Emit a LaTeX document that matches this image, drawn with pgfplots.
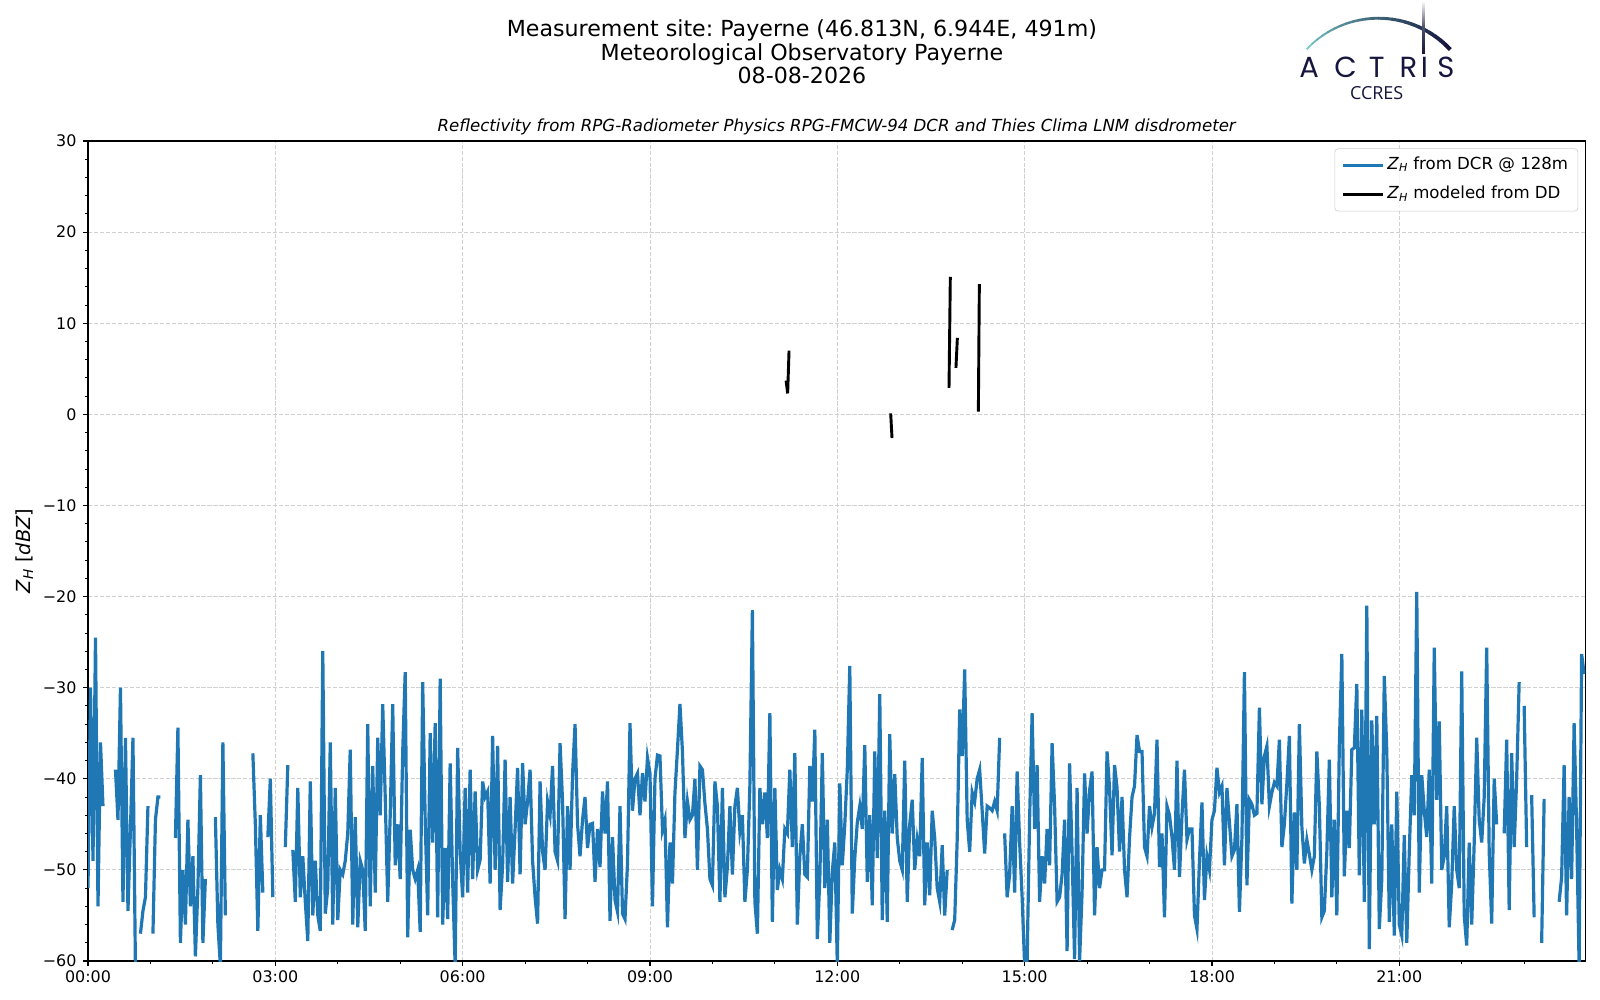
\documentclass[border=0pt]{standalone}
\usepackage{fontspec}
\setmainfont{DejaVu Sans}[ItalicFont={DejaVu Sans Oblique}]
\newfontfamily\logofont{Poppins}
\newfontfamily\ccresfont{Open Sans}
\usepackage{pgfplots}
\usepackage{pgfplotstable}
\pgfplotsset{compat=1.18}
\frenchspacing
\definecolor{mplblue}{HTML}{1F77B4}
\definecolor{navy}{HTML}{15153D}
\definecolor{tealA}{HTML}{74CBC6}
\definecolor{gridgray}{HTML}{D0D0D0}

\pgfplotstableread[row sep=\\, header=false]{
-52\\-30\\-49\\-24.5\\-54\\-36\\-43\\nan\\nan\\nan\\nan\\-39\\-44.5\\-30\\-53.5\\-35.5\\-54.5\\-45.5\\-35.5\\-61\\nan\\-57\\-54.5\\-53\\-43\\
nan\\-57\\-44.5\\-42\\-42\\nan\\nan\\nan\\nan\\nan\\-46.5\\-34.4\\-58\\-50\\-56\\-44.5\\-54\\-48.5\\-59.5\\-52\\-39.6\\-58\\-51\\nan\\nan\\
nan\\-44.2\\-56\\-60.5\\-36\\-55\\nan\\nan\\nan\\nan\\nan\\nan\\nan\\nan\\nan\\nan\\-37.2\\-45\\-56.7\\-44\\-52.5\\nan\\-46.4\\-40\\-53\\
nan\\nan\\nan\\nan\\-47.5\\-38.5\\nan\\-47.8\\-53.5\\-41\\-53\\-48.5\\-53.5\\-57.8\\-40.3\\-55\\-49\\-55\\-56.7\\-26\\-54.8\\-52\\-36\\-56\\-41\\
-55.5\\-50\\-50.5\\-49\\-46\\-36.8\\-56\\-44.2\\-56.3\\-49\\-50\\-56.7\\-34\\-54\\-38.6\\-52.5\\-35.5\\-44\\-31.8\\-42\\-53.5\\-44\\-31.8\\-49.5\\-45\\
-51\\-37\\-28.3\\-57.4\\-45.6\\-50\\-51\\-50\\-56.8\\-29.4\\-44.5\\-55\\-35\\-47\\-33.9\\-55.2\\-29\\-56\\-47.6\\-55.4\\-38.3\\-51.3\\-60.5\\-36.6\\-48\\
-53\\-41\\-52.5\\-39\\-51\\-41.4\\-50\\-48.9\\-40.3\\-42\\-41.4\\-51.5\\-35.3\\-50\\-36.4\\-54.4\\-49.5\\-37.9\\-51.3\\-42\\-51.5\\-45.5\\-38.8\\-50.5\\-38.3\\
-45\\-42.5\\-39\\-49\\-53\\-55.9\\-40.3\\-48\\-50\\-42.5\\-44\\-38.6\\-48\\-49\\-36.1\\-42.5\\-55.4\\-43\\-50\\-39.5\\-34\\-45\\-48.5\\-44.5\\-42\\
-47.6\\-45\\-44.9\\-51.3\\-45.5\\-49.7\\-41.4\\-46\\-40.3\\-55.6\\-46.4\\-53.3\\-54.6\\-43\\-54.8\\-55.4\\-49.3\\-33.9\\-43.5\\-40\\-39.4\\-44\\-39.4\\-42.5\\-37.7\\
-39.4\\-54\\-40\\-37.4\\-37.5\\-45.6\\-44.5\\-56.3\\-47\\-51.5\\-41.5\\-36.8\\-31.8\\-37\\-46.5\\-42.5\\-44.5\\-44\\-40\\-50\\-38.6\\-39\\-42.7\\-45.5\\-51\\
-51.7\\-40.3\\-43\\-53.5\\-41\\-53\\-49.7\\-43\\-50.5\\-43\\-41\\-45.8\\-44\\-53.5\\-50\\-40.7\\-21.5\\-53.5\\-57\\-41\\-45\\-41.5\\-46.5\\-32.8\\-55.7\\
-41\\-52.2\\-50\\-51\\-45.5\\-46\\-39\\-47.5\\-37.2\\-56\\-48.5\\-45\\-50.5\\-50.8\\-38.6\\-42.5\\-34.6\\-57.6\\-51\\-37.2\\-52\\-44.5\\-58\\-50.2\\-47\\
-60.5\\-40.5\\-49.5\\-45\\-39\\-27.6\\-54.8\\-48.7\\-44.8\\-43\\-45.5\\-36.3\\-51.3\\-44\\-53.9\\-37\\-48.7\\-30.7\\-55.5\\-43.5\\-55.7\\-35.1\\-46\\-39.5\\-46.5\\
-49\\-50\\-38\\-53.5\\-45\\-42.3\\-50\\-46.7\\-48.5\\-37.7\\-53.9\\-47\\-52.8\\-43.5\\-46.5\\-52\\-53.5\\-47.3\\-55\\-50\\nan\\-56.6\\-55.5\\-46.7\\-32.4\\
-37.5\\-28\\-44.5\\-48\\-41.5\\-42.5\\-40\\-39\\-43.5\\-48.2\\-43\\-43.2\\-43.5\\-42.5\\-43.5\\-35.5\\nan\\-46\\-53\\-50.5\\-43\\-52.5\\-39.2\\-47\\-53\\
-60.5\\-60\\-44.3\\-32.8\\-45.5\\-38.5\\-53.5\\-48.5\\-51.5\\-45.5\\-49.5\\-36.1\\-43\\-53.5\\-53\\-50.5\\-44.5\\-58.9\\-38.3\\-48.2\\-59.8\\-41\\-60\\-52.5\\-39.4\\
-46\\-41.3\\-39.2\\-55\\-47.5\\-52\\-50\\-50\\-37\\-41\\-48.4\\-38.5\\-41\\-48\\-42\\-50\\-53\\-46.5\\-42\\-40.8\\-35.2\\-37\\-37\\-47.5\\-48.5\\
-43\\-45.3\\-43.8\\-35.7\\-49.7\\-46\\-55.2\\-43\\-44\\-46.4\\-50\\-38\\-50.8\\-44\\-39\\-46.7\\-45.5\\-45.5\\-55\\-56.5\\-49\\-42.6\\-53.3\\-48.5\\-50\\
-44.5\\-43.5\\-38.8\\-41.5\\-40.8\\-49.5\\-41\\-44.8\\-48.5\\-47.8\\-42.8\\-54.6\\-46.5\\-28.3\\-51.7\\-42.3\\-42.8\\-44\\-43.8\\-32.2\\-42.8\\-37.5\\-36.4\\-43\\-41.5\\
-40.4\\-40.8\\-35.7\\-47.5\\-45\\-40.5\\-35.3\\-53.7\\-43.7\\-50\\-34\\-45.3\\-49.3\\-46.7\\-48.3\\-50\\-48.5\\-37\\-43\\-55.2\\-54.5\\-48\\-37.9\\-53\\-44.5\\
-55\\-36.3\\-26.3\\-50.7\\-43.5\\-47.6\\-36.8\\-36.6\\-29.6\\-50.6\\-32.4\\-53.5\\-21\\-58.7\\-33.6\\-45\\-33.1\\-56.5\\-51\\-28.7\\-37\\-55.7\\-45\\-57.2\\-41.4\\
-56\\-57.2\\-46.2\\-58\\-48\\-39.6\\-44\\-19.5\\-52.5\\-39.6\\-43.5\\-46.4\\-39\\-51.5\\-25.6\\-42.3\\-33.7\\-50\\-48.5\\-43\\-56.3\\-51.5\\-43\\-50\\-52\\
-28.2\\-55\\-58.3\\-47\\-56\\-47\\-35.5\\-44.5\\-47\\-42\\-25.6\\-48\\-55.9\\-40\\-45\\nan\\nan\\-46\\-35.7\\-54.4\\-37.2\\-47.5\\-40\\-29.4\\nan\\
-32\\-47.5\\nan\\-41.8\\-55.2\\nan\\nan\\-58\\-42.2\\nan\\nan\\nan\\nan\\nan\\-53.5\\-50.8\\-38.5\\-55\\-42\\-51\\-33.9\\-45.3\\-60.5\\-26.3\\-28.5\\
}\dcrdata

\begin{document}
\begin{tikzpicture}
\path[use as bounding box] (0,0) rectangle (1152bp,720bp);
\begin{axis}[
  at={(63.36bp,28.08bp)}, anchor=south west,
  scale only axis, width=1078.1bp, height=590.4bp,
  xmin=0, xmax=23.98, ymin=-60, ymax=30,
  xtick={0,3,6,9,12,15,18,21},
  xticklabels={00:00,03:00,06:00,09:00,12:00,15:00,18:00,21:00},
  minor xtick={1,2,4,5,7,8,10,11,13,14,16,17,19,20,22,23},
  ytick={-60,-50,-40,-30,-20,-10,0,10,20,30},
  yticklabels={−60,−50,−40,−30,−20,−10,0,10,20,30},
  minor ytick={-58,-56,-54,-52,-48,-46,-44,-42,-38,-36,-34,-32,-28,-26,-24,-22,-18,-16,-14,-12,-8,-6,-4,-2,2,4,6,8,12,14,16,18,22,24,26,28},
  grid=major,
  major grid style={gridgray, dash pattern=on 3bp off 1.3bp, line width=0.6bp},
  tick align=outside, tick pos=left,
  major tick length=3.5bp, minor tick length=2bp,
  every tick/.style={black, line width=0.8bp},
  minor tick style={black, line width=0.6bp},
  axis line style={line width=0.8bp},
  ticklabel style={font=\fontsize{11.5}{13}\selectfont},
  xticklabel style={inner sep=0pt, anchor=north, yshift=-3.2bp},
  yticklabel style={inner sep=0pt, anchor=east, xshift=-4.6bp},
  unbounded coords=jump,
  legend cell align=left,
  legend image code/.code={\draw[#1] (0bp,0bp) -- (28.5bp,0bp);},
  legend style={at={(0.9952,0.991)}, anchor=north east, draw=black!20, fill=white,
    fill opacity=0.8, text opacity=1, rounded corners=2.5bp,
    font=\fontsize{12}{14}\selectfont, inner xsep=5bp, inner ysep=4bp, row sep=5bp,
    nodes={inner sep=2bp, text height=9bp, text depth=3bp}},
]
\addplot[mplblue, line width=2.3bp] table[x expr=\coordindex*0.04, y index=0] {\dcrdata};
\addlegendentry{\textit{Z}\textsubscript{\textit{H}} from DCR @ 128m}
\addplot[black, line width=2.1bp] coordinates {
(11.18,3.7) (11.205,2.3) (11.227,7.0) (11.24,nan)
(12.855,0.1) (12.876,-2.6) (12.9,nan)
(13.789,2.9) (13.81,15.1) (13.85,nan)
(13.90,5.1) (13.923,8.4) (14.0,nan)
(14.259,0.3) (14.275,14.3)
};
\addlegendentry{\textit{Z}\textsubscript{\textit{H}} modeled from DD}
\end{axis}
% y label
\node[rotate=90, font=\fontsize{14}{16}\selectfont] at (17.5bp,323.3bp) {\textit{Z}\textsubscript{\textit{H}} [\textit{dBZ}]};
% titles
\node[anchor=base, font=\fontsize{16}{19}\selectfont] at (577.4bp,693.6bp) {Measurement site: Payerne (46.813N, 6.944E, 491m)};
\node[anchor=base, font=\fontsize{16}{19}\selectfont] at (577.4bp,676.4bp) {Meteorological Observatory Payerne};
\node[anchor=base, font=\fontsize{16}{19}\selectfont] at (577.4bp,659.6bp) {08-08-2026};
\node[anchor=base, font=\fontsize{12}{14}\selectfont\itshape] at (602.4bp,625.6bp) {Reflectivity from RPG-Radiometer Physics RPG-FMCW-94 DCR and Thies Clima LNM disdrometer};
% logo
\foreach \i in {0,...,23} {
  \pgfmathsetmacro\aa{136.8-\i*3.896}
  \pgfmathsetmacro\bb{\aa-4.2}
  \pgfmathtruncatemacro\mm{100*(\i/23)^0.8}
  \pgfmathsetmacro\lw{1.2+\i*0.075}
  \draw[navy!\mm!tealA, line width=\lw bp] ([shift={(\aa:70.85bp)}]992.4bp,636bp) arc[start angle=\aa, end angle=\bb, radius=70.85bp];
}
\shade[top color=white, bottom color=navy, middle color=navy!75] (1024.0bp,681.6bp) rectangle (1025.9bp,719.5bp);
\foreach \x/\l in {942.5/A,968.9/C,991.2/T,1014.0/R,1025.6/I,1041.1/S} {
  \node[anchor=base, inner sep=0pt, text=navy, font=\logofont\fontsize{21}{25}\selectfont] at (\x bp,664.3bp) {\l};
}
\node[anchor=base, inner sep=0pt, text=navy, font=\ccresfont\fontsize{13}{15}\selectfont] at (991.2bp,648.3bp) {CCRES};
\end{tikzpicture}
\end{document}
